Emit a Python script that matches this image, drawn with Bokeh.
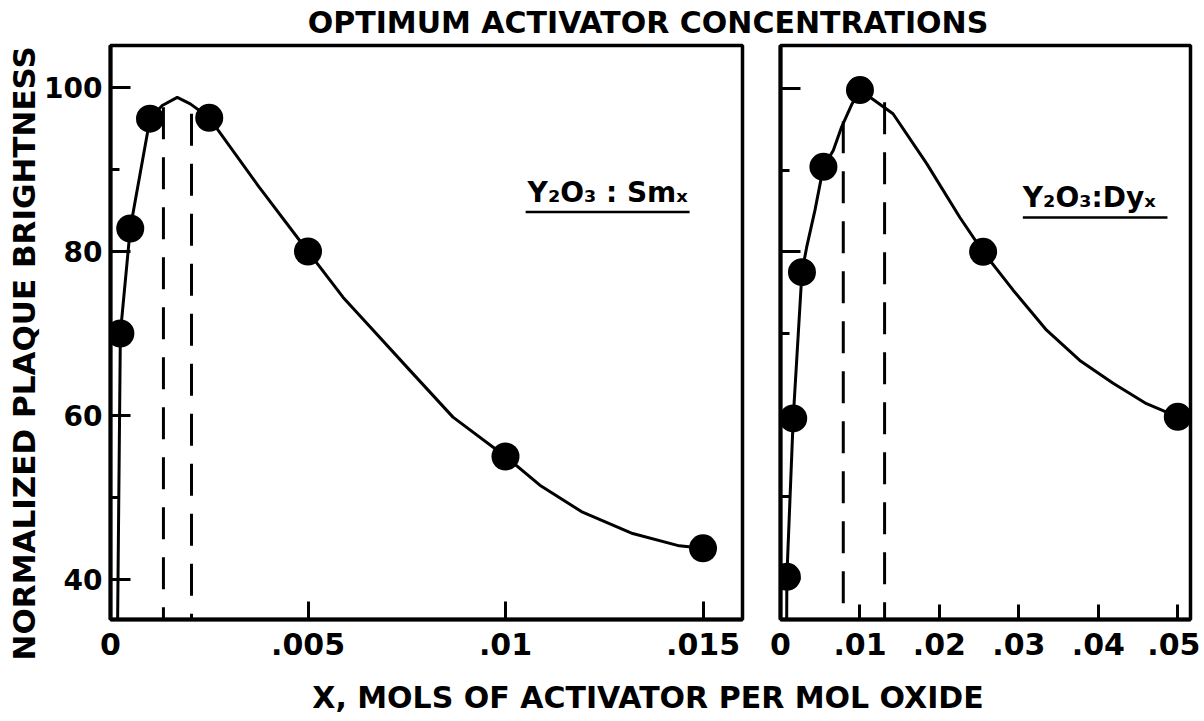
from bokeh.plotting import figure
from bokeh.layouts import column, row
from bokeh.models import Range1d, FixedTicker, Label, Title
from bokeh.embed import file_html
from bokeh.resources import INLINE

# ---------------- data ----------------
title_text = "OPTIMUM ACTIVATOR CONCENTRATIONS"
ylabel_text = "NORMALIZED PLAQUE BRIGHTNESS"
xlabel_text = "X, MOLS OF ACTIVATOR PER MOL OXIDE"

# Y2O3:Sm_x panel
sm_x = [0.00025, 0.0005, 0.001, 0.0025, 0.005, 0.01, 0.015]
sm_y = [70.0, 82.8, 96.2, 96.3, 80.0, 55.0, 43.8]
sm_curve_x = [0.00017, 0.00025, 0.0005, 0.001, 0.00131, 0.00169, 0.00202, 0.0025,
              0.00374, 0.005, 0.00589, 0.0065, 0.00758, 0.00867, 0.01, 0.01087,
              0.01195, 0.01322, 0.0144, 0.015]
sm_curve_y = [30.0, 70.0, 82.8, 96.2, 97.8, 98.8, 98.0, 96.3,
              88.0, 80.0, 74.4, 71.2, 65.5, 59.8, 55.0, 51.5,
              48.2, 45.6, 44.1, 43.8]
sm_opt_x = [0.00134, 0.00205]
sm_opt_top = [97.6, 96.8]
sm_label = "Y₂O₃ : Smₓ"

# Y2O3:Dy_x panel
dy_x = [0.0008, 0.0016, 0.0027, 0.0054, 0.01, 0.0255, 0.05]
dy_y = [40.2, 59.6, 77.5, 90.4, 99.8, 80.0, 59.8]
dy_curve_x = [0.00076, 0.0008, 0.0016, 0.0027, 0.0033, 0.00434, 0.0054, 0.00664,
              0.0077, 0.009, 0.01, 0.01416, 0.0184, 0.02258, 0.0255, 0.02928,
              0.03349, 0.03767, 0.04186, 0.04606, 0.05]
dy_curve_y = [30.0, 40.2, 59.6, 77.5, 80.6, 85.1, 90.4, 92.4,
              95.3, 98.1, 99.8, 96.9, 90.8, 84.2, 80.0, 75.3,
              70.4, 66.7, 63.9, 61.4, 59.8]
dy_opt_x = [0.0079, 0.0131]
dy_opt_top = [96.0, 98.3]
dy_label = "Y₂O₃:Dyₓ"

# ticks
y_ticks = [40, 60, 80, 100]
y_minor = [50, 70, 90]
y_tick_labels = ["40", "60", "80", "100"]
sm_xticks = [0, 0.005, 0.01, 0.015]
sm_xtick_labels = ["0", ".005", ".01", ".015"]
dy_xticks = [0, 0.01, 0.02, 0.03, 0.04, 0.05]
dy_xtick_labels = ["0", ".01", ".02", ".03", ".04", ".05"]

FONT = "DejaVu Sans"


def make_panel(width, height, xr, yr, mbl, mbr, mbt, mbb):
    p = figure(width=width, height=height, x_range=Range1d(*xr), y_range=Range1d(*yr),
               output_backend="svg", toolbar_location=None,
               min_border_left=mbl, min_border_right=mbr,
               min_border_top=mbt, min_border_bottom=mbb)
    p.xgrid.visible = False
    p.ygrid.visible = False
    p.outline_line_color = "black"
    p.outline_line_width = 3.5
    p.background_fill_color = "white"
    p.border_fill_color = "white"
    for ax in (p.xaxis[0], p.yaxis[0]):
        ax.axis_line_width = 4
        ax.axis_line_color = "black"
        ax.major_tick_out = 0
        ax.major_tick_in = 20
        ax.minor_tick_out = 0
        ax.minor_tick_in = 9
        ax.major_tick_line_width = 3
        ax.minor_tick_line_width = 3
        ax.major_tick_line_color = "black"
        ax.minor_tick_line_color = "black"
        ax.major_label_text_font = FONT
        ax.major_label_text_font_size = "30px"
        ax.major_label_text_font_style = "bold"
        ax.major_label_text_color = "black"
    return p


def draw_series(p, xs, ys, cx, cy, opt_x, opt_top, ybottom):
    p.line(cx, cy, line_color="black", line_width=3)
    for ox, ot in zip(opt_x, opt_top):
        p.segment(x0=[ox], y0=[ot], x1=[ox], y1=[ybottom - 1], line_color="black",
                  line_width=3, line_dash="32 18")
    p.scatter(xs, ys, size=28, fill_color="black", line_color=None)


ROW_H = 628
MBT, FRAME_H = 5, 574
MBB = ROW_H - MBT - FRAME_H

# ---------------- left panel (Sm) ----------------
left = make_panel(760, ROW_H, (0.0, 0.016), (35.12, 105.12), 110, 18, MBT, MBB)
left.yaxis[0].ticker = FixedTicker(ticks=y_ticks, minor_ticks=y_minor)
left.yaxis[0].major_label_overrides = {t: s for t, s in zip(y_ticks, y_tick_labels)}
left.yaxis[0].major_label_text_font_size = "28px"
left.yaxis[0].major_label_standoff = 8
left.xaxis[0].ticker = FixedTicker(ticks=sm_xticks, minor_ticks=[])
left.xaxis[0].major_label_overrides = {t: s for t, s in zip(sm_xticks, sm_xtick_labels)}
left.xaxis[0].major_label_standoff = 13
left.xaxis[0].major_tick_in = 18
draw_series(left, sm_x, sm_y, sm_curve_x, sm_curve_y, sm_opt_x, sm_opt_top, 35.12)
left.add_layout(Label(x=0.01056, y=87.2, text=sm_label, text_font=FONT, text_color="black",
                      text_font_size="28px", text_font_style="bold",
                      text_align="left", text_baseline="alphabetic"))
left.segment(x0=[0.01051], y0=[84.8], x1=[0.01466], y1=[84.8], line_color="black", line_width=2.5)
left.add_layout(Title(text=ylabel_text, align="left", offset=-41, standoff=0,
                      text_font=FONT, text_font_size="31px", text_font_style="bold",
                      text_color="black"), "left")

# ---------------- right panel (Dy) ----------------
right = make_panel(440, ROW_H, (0.0, 0.0516), (34.98, 105.26), 20, 10, MBT, MBB)
right.yaxis[0].ticker = FixedTicker(ticks=y_ticks, minor_ticks=y_minor)
right.yaxis[0].major_label_overrides = {t: "" for t in y_ticks}
right.yaxis[0].major_label_standoff = 0
right.xaxis[0].ticker = FixedTicker(ticks=dy_xticks, minor_ticks=[])
right.xaxis[0].major_label_overrides = {t: s for t, s in zip(dy_xticks, dy_xtick_labels)}
right.xaxis[0].major_label_standoff = 13
right.xaxis[0].major_tick_in = 15
draw_series(right, dy_x, dy_y, dy_curve_x, dy_curve_y, dy_opt_x, dy_opt_top, 34.98)
right.add_layout(Label(x=0.0305, y=86.7, text=dy_label, text_font=FONT, text_color="black",
                       text_font_size="28px", text_font_style="bold",
                       text_align="left", text_baseline="alphabetic"))
right.segment(x0=[0.0305], y0=[84.2], x1=[0.0487], y1=[84.2], line_color="black", line_width=2.5)


# ---------------- text strips (title, x label) ----------------
def strip(width, height, text, x, y):
    s = figure(width=width, height=height, x_range=Range1d(0, width), y_range=Range1d(0, height),
               output_backend="svg", toolbar_location=None, x_axis_type=None, y_axis_type=None,
               min_border=0)
    s.xgrid.visible = False
    s.ygrid.visible = False
    s.outline_line_color = None
    s.background_fill_color = "white"
    s.border_fill_color = "white"
    s.add_layout(Label(x=x, y=y, text=text, text_font=FONT, text_font_size="30px",
                       text_color="black", text_font_style="bold",
                       text_align="center", text_baseline="middle"))
    return s


top = strip(1200, 40, title_text, 647.5, 18)
bottom = strip(1200, 50, xlabel_text, 647.5, 21)

layout = column(top, row(left, right), bottom)
open("out.html", "w").write(file_html(layout, INLINE))
